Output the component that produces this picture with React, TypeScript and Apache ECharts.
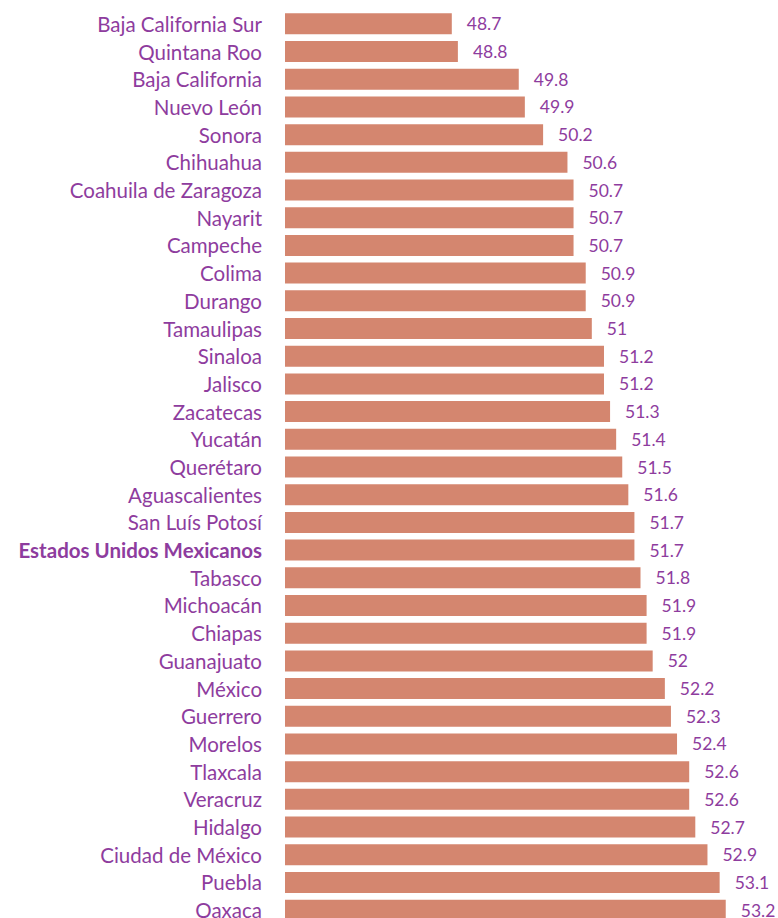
import React, { useEffect, useRef } from "react";
import * as echarts from "echarts";

const categories = [
  "Baja California Sur", "Quintana Roo", "Baja California", "Nuevo León", "Sonora",
  "Chihuahua", "Coahuila de Zaragoza", "Nayarit", "Campeche", "Colima", "Durango",
  "Tamaulipas", "Sinaloa", "Jalisco", "Zacatecas", "Yucatán", "Querétaro",
  "Aguascalientes", "San Luís Potosí", "Estados Unidos Mexicanos", "Tabasco",
  "Michoacán", "Chiapas", "Guanajuato", "México", "Guerrero", "Morelos", "Tlaxcala",
  "Veracruz", "Hidalgo", "Ciudad de México", "Puebla", "Oaxaca",
];
const values = [
  48.7, 48.8, 49.8, 49.9, 50.2, 50.6, 50.7, 50.7, 50.7, 50.9, 50.9, 51, 51.2, 51.2,
  51.3, 51.4, 51.5, 51.6, 51.7, 51.7, 51.8, 51.9, 51.9, 52, 52.2, 52.3, 52.4, 52.6,
  52.6, 52.7, 52.9, 53.1, 53.2,
];
const highlight = "Estados Unidos Mexicanos";

const PURPLE = "#8E3C9E";
const FONT = "Lato";

export default function App() {
  const ref = useRef<HTMLDivElement>(null);
  useEffect(() => {
    if (!ref.current) return;
    const chart = echarts.init(ref.current, null, { renderer: "svg" });
    chart.setOption({
      animation: false,
      grid: { left: 285, right: 6, top: 10, bottom: 6 },
      xAxis: {
        type: "value",
        min: 45.96,
        max: 53.96,
        show: false,
      },
      yAxis: {
        type: "category",
        data: categories,
        inverse: true,
        axisLine: { show: false },
        axisTick: { show: false },
        axisLabel: {
          margin: 23,
          fontFamily: FONT,
          fontSize: 20.5,
          color: PURPLE,
          formatter: (v: string) => (v === highlight ? `{b|${v}}` : v),
          rich: {
            b: { fontFamily: FONT, fontSize: 20.5, fontWeight: "bold", color: PURPLE },
          },
        },
      },
      series: [
        {
          type: "bar",
          data: values,
          barWidth: 21,
          itemStyle: { color: "#D4866F" },
          label: {
            show: true,
            position: "right",
            distance: 15,
            fontFamily: FONT,
            fontSize: 17.5,
            color: PURPLE,
          },
        },
      ],
    });
    return () => chart.dispose();
  }, []);
  return (
    <div
      ref={ref}
      style={{ position: "fixed", left: 0, top: 0, width: 778, height: 930, background: "#fff" }}
    />
  );
}
